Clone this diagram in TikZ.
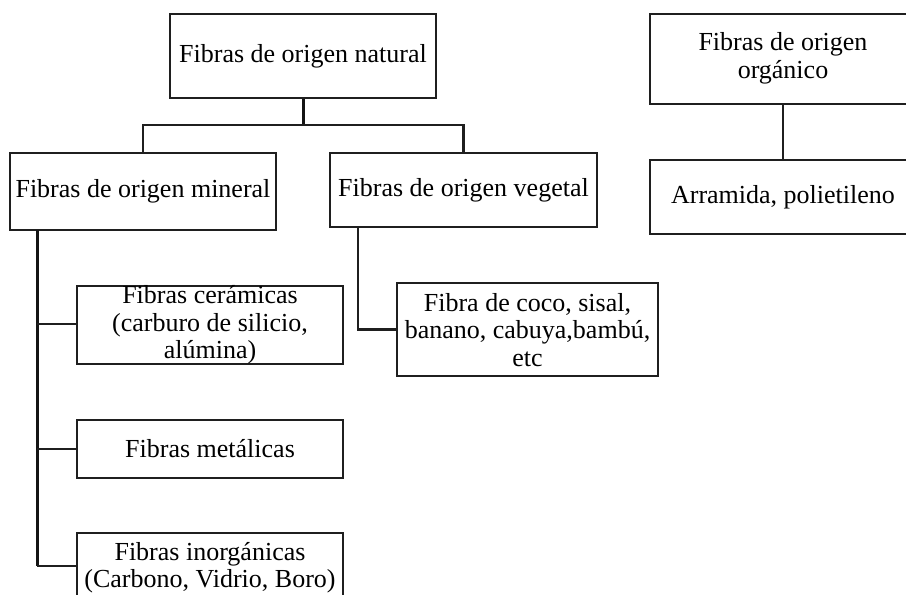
\documentclass[tikz,border=0pt]{standalone}
\usepackage{fontspec}
\setmainfont{Liberation Serif}
\begin{document}
\begin{tikzpicture}[x=1pt,y=-1pt,
  box/.style={draw=black!88, line width=2.2pt, inner sep=0pt, minimum width=266pt},
  txt/.style={inner sep=0pt, align=center, font=\fontsize{26}{27.5}\selectfont},
  con/.style={draw=black!88, line width=2.2pt},
  thick con/.style={draw=black!92, line width=3pt}]
\useasboundingbox (0,0) rectangle (906,595);
\clip (0,0) rectangle (906,595);
% boxes
\node[box, minimum height=84pt] (nat) at (303,56) {};
\node[txt] (natT) at (nat.center) {Fibras de origen natural};
\node[box, minimum height=77pt] (min) at (143,191.5) {};
\node[txt] (minT) at (min.center) {Fibras de origen mineral};
\node[box, minimum width=267pt, minimum height=74pt] (veg) at (463.5,190) {};
\node[txt] (vegT) at (veg.center) {Fibras de origen vegetal};
\node[box, minimum height=90pt] (org) at (783,59) {};
\node[txt] (orgT) at (783,58.5) {Fibras de origen\\orgánico};
\node[box, minimum height=74pt] (arr) at (783,197) {};
\node[txt] (arrT) at (arr.center) {Arramida, polietileno};
\node[box, minimum height=78pt] (cer) at (210,325) {};
\node[txt] (cerT) at (210,325) {Fibras cerámicas\\(carburo de silicio,\\alúmina)};
\node[box, minimum height=58pt] (met) at (210,449) {};
\node[txt] (metT) at (met.center) {Fibras metálicas};
\node[box, minimum height=92pt] (ino) at (210,579) {};
\node[txt] (inoT) at (210,567.5) {Fibras inorgánicas\\(Carbono, Vidrio, Boro)};
\node[box, minimum width=261pt, minimum height=93pt] (coc) at (527.5,329.5) {};
\node[txt] (cocT) at (527.5,330) {Fibra de coco, sisal,\\banano, cabuya,bambú,\\etc};
% connectors
\coordinate (j1) at (303,125);
\draw[thick con] (nat.south) -- (j1);
\draw[con] (min.north) |- (j1) -| (veg.north);
\draw[con] (org.south) -- (arr.north);
\coordinate (mtop) at (37,230);
\coordinate (mbot) at (37,566);
\draw[thick con] (mtop) -- (mbot);
\draw[con] (mbot) -- (ino.west |- mbot);
\draw[con] (37,324) -- (cer.west |- 0,324);
\draw[con] (37,449) -- (met.west);
\coordinate (vtop) at (358,227);
\draw[con] (vtop) |- (coc.west);
\end{tikzpicture}
\end{document}
